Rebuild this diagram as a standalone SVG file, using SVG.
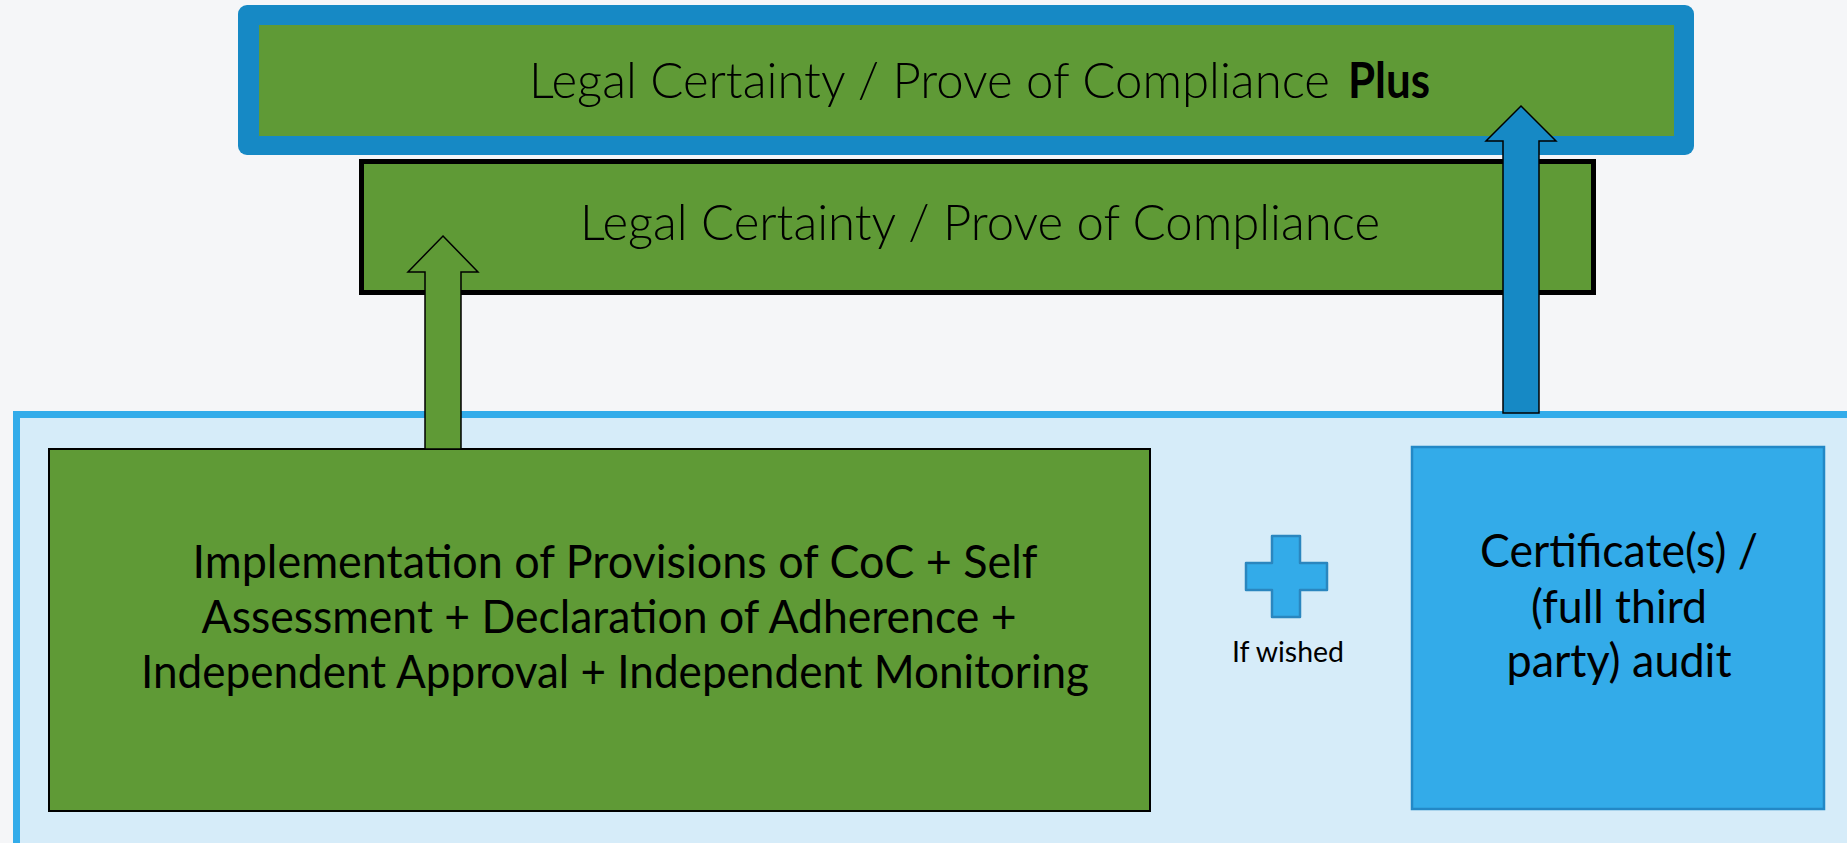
<svg xmlns="http://www.w3.org/2000/svg" width="1847" height="843" viewBox="0 0 1847 843">
<style>
.t{font-family:Lato,"Liberation Sans",sans-serif;fill:#000}
.light{font-weight:300}
.green{fill:#5f9a36}
.arrow{stroke:#000;stroke-width:1.5;stroke-linejoin:miter}
</style>
<rect x="0" y="0" width="1847" height="843" fill="#f5f6f8"/>
<g id="container">
<rect x="16.5" y="414.5" width="1840" height="440" fill="#d6ecf9" stroke="#33acea" stroke-width="7"/>
</g>
<g id="top-box">
<rect x="238" y="5" width="1456" height="150" rx="9" fill="#1689c5"/>
<rect x="259" y="25" width="1415" height="111" class="green"/>
<text class="t light" x="529" y="98" font-size="50" textLength="801" lengthAdjust="spacingAndGlyphs">Legal Certainty / Prove of Compliance</text>
<text class="t" x="1348" y="98" font-size="50" font-weight="700" textLength="82" lengthAdjust="spacingAndGlyphs">Plus</text>
</g>
<g id="mid-box">
<rect x="361.5" y="161.5" width="1232" height="131" class="green" stroke="#000" stroke-width="5"/>
<text class="t light" x="580" y="240" font-size="50" textLength="800" lengthAdjust="spacingAndGlyphs">Legal Certainty / Prove of Compliance</text>
</g>
<g id="left-box">
<rect x="49" y="449" width="1101" height="362" class="green" stroke="#000" stroke-width="2"/>
<text class="t" font-size="46" text-anchor="middle" x="615" y="578" textLength="845" lengthAdjust="spacingAndGlyphs">Implementation of Provisions of CoC + Self</text>
<text class="t" font-size="46" text-anchor="middle" x="609" y="633" textLength="815" lengthAdjust="spacingAndGlyphs">Assessment + Declaration of Adherence +</text>
<text class="t" font-size="46" text-anchor="middle" x="615" y="688" textLength="948" lengthAdjust="spacingAndGlyphs">Independent Approval + Independent Monitoring</text>
</g>
<g id="plus">
<path d="M1272,536 H1300 V563 H1327 V590 H1300 V617 H1272 V590 H1246 V563 H1272 Z" fill="#33abe9" stroke="#2a86bf" stroke-width="2.5" stroke-linejoin="round"/>
<text class="t" x="1288" y="662" font-size="29" text-anchor="middle" textLength="112" lengthAdjust="spacingAndGlyphs">If wished</text>
</g>
<g id="right-box">
<rect x="1412" y="447" width="412" height="362" fill="#33abe9" stroke="#2388c6" stroke-width="2.5"/>
<text class="t" x="1619" y="567" font-size="46" text-anchor="middle" textLength="278" lengthAdjust="spacingAndGlyphs">Certificate(s) /</text>
<text class="t" x="1619" y="623" font-size="46" text-anchor="middle" textLength="176" lengthAdjust="spacingAndGlyphs">(full third</text>
<text class="t" x="1619" y="677" font-size="46" text-anchor="middle" textLength="225" lengthAdjust="spacingAndGlyphs">party) audit</text>
</g>
<g id="connectors">
<path class="arrow" d="M443,236 L478,272 H461 V449 H425 V272 H408 Z" fill="#5f9a36"/>
<path class="arrow" d="M1521,106 L1556,141 H1539 V413 H1503 V141 H1486 Z" fill="#1689c5"/>
</g>
</svg>
